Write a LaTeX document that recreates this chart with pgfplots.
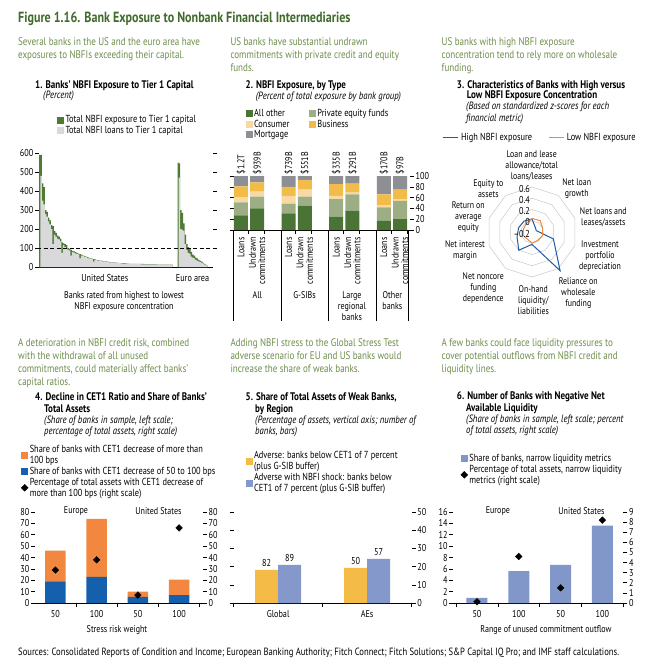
\documentclass[border=0pt]{standalone}
\usepackage{fontspec}
\setmainfont{PT Sans}[FakeStretch=0.82]
\usepackage{pgfplots}
\pgfplotsset{compat=1.18}
\usepgfplotslibrary{polar}

\definecolor{titlegreen}{HTML}{3F6B2B}
\definecolor{introgreen}{HTML}{6E8E4C}
\definecolor{nbgreen}{HTML}{4E7B33}
\definecolor{nbgrey}{HTML}{D9D9DB}
\definecolor{aother}{HTML}{4A7436}
\definecolor{pefund}{HTML}{9DAE85}
\definecolor{consum}{HTML}{F8D9A4}
\definecolor{busin}{HTML}{F2BC4A}
\definecolor{mortg}{HTML}{8E8F94}
\definecolor{hiblue}{HTML}{1E5BA6}
\definecolor{loorange}{HTML}{F0883E}
\definecolor{p4orange}{HTML}{F2883F}
\definecolor{p4blue}{HTML}{1560AC}
\definecolor{p5yellow}{HTML}{F5BB47}
\definecolor{p5blue}{HTML}{8598CB}
\definecolor{p6blue}{HTML}{8197CA}
\definecolor{ringgrey}{HTML}{C8C8C8}

\newcommand\ftitle{\fontsize{14.7}{16}\selectfont\bfseries}
\newcommand\fintro{\fontsize{11}{12.7}\selectfont}
\newcommand\ffoot{\fontsize{10.5}{12}\selectfont}
\newcommand\fpt{\fontsize{11}{12.2}\selectfont\bfseries}
\newcommand\fsub{\fontsize{10.6}{11.2}\selectfont\itshape}
\newcommand\fleg{\fontsize{10.2}{11.2}\selectfont}
\newcommand\frad{\fontsize{9.6}{11}\selectfont}
\newcommand\fax{\fontsize{9.8}{11}\selectfont}
\newcommand\frot{\fontsize{9.8}{9.4}\selectfont}
\newcommand\ftick{\fontsize{10}{11}\selectfont}

\pgfplotsset{
  base/.style={scale only axis, clip=false,
    every tick/.style={black, line width=0.6pt},
    major tick length=4pt,
    tick label style={font=\ftick, black},
    yticklabel style={inner sep=1.5pt},
    /pgf/number format/assume math mode=true,
    legend cell align=left,
    legend style={draw=none, fill=none, font=\fleg, inner sep=0pt, outer sep=0pt,
      row sep=0.8pt, nodes={inner xsep=1.5pt, inner ysep=0.6pt}, cells={align=left}}},
  lax/.style={axis x line=bottom, axis y line=left,
    x axis line style={-, line width=0.6pt, black}, y axis line style={draw=none},
    tick align=outside},
  rax/.style={axis x line=bottom, axis y line=right,
    x axis line style={draw=none}, y axis line style={draw=none},
    tick align=outside},
  sqleg/.style={legend image code/.code={\fill[##1] (0pt,-3.5pt) rectangle (7pt,3.5pt);}},
  dmleg/.style={legend image code/.code={\fill[black] (3.5pt,3.4pt) -- (6.9pt,0pt) -- (3.5pt,-3.4pt) -- (0.1pt,0pt) -- cycle;}},
  diam/.style={only marks, mark=square*, mark size=2.35pt, mark options={rotate=45, fill=black, draw=black}},
}

\begin{document}
\begin{tikzpicture}
\fill[white] (0pt,0pt) rectangle (646pt,-658pt);

% ---------- headings ----------
\node[anchor=north west, inner sep=0pt, font=\ftitle, text=titlegreen] at (18pt,-11.6pt)
  {Figure 1.16. Bank Exposure to Nonbank Financial Intermediaries};
\node[anchor=north west, inner sep=0pt, align=left, font=\fintro, text=introgreen] at (18pt,-37.9pt)
  {Several banks in the US and the euro area have\\exposures to NBFIs exceeding their capital.};
\node[anchor=north west, inner sep=0pt, align=left, font=\fintro, text=introgreen] at (230.3pt,-37.9pt)
  {US banks have substantial undrawn\\commitments with private credit and equity\\funds.};
\node[anchor=north west, inner sep=0pt, align=left, font=\fintro, text=introgreen] at (441.5pt,-37.9pt)
  {US banks with high NBFI exposure\\concentration tend to rely more on wholesale\\funding.};
\node[anchor=north west, inner sep=0pt, align=left, font=\fintro, text=introgreen] at (18pt,-338.9pt)
  {A deterioration in NBFI credit risk, combined\\with the withdrawal of all unused\\commitments, could materially affect banks'\\capital ratios.};
\node[anchor=north west, inner sep=0pt, align=left, font=\fintro, text=introgreen] at (230.3pt,-338.9pt)
  {Adding NBFI stress to the Global Stress Test\\adverse scenario for EU and US banks would\\increase the share of weak banks.};
\node[anchor=north west, inner sep=0pt, align=left, font=\fintro, text=introgreen] at (441.5pt,-338.9pt)
  {A few banks could face liquidity pressures to\\cover potential outflows from NBFI credit and\\liquidity lines.};

% panel titles
\node[anchor=north west, inner sep=0pt, font=\fpt] at (35pt,-80pt) {1. Banks' NBFI Exposure to Tier 1 Capital};
\node[anchor=north west, inner sep=0pt, font=\fsub] at (43pt,-91.2pt) {(Percent)};
\node[anchor=north west, inner sep=0pt, font=\fpt] at (245.5pt,-80.5pt) {2. NBFI Exposure, by Type};
\node[anchor=north west, inner sep=0pt, font=\fsub] at (255.7pt,-91.4pt) {(Percent of total exposure by bank group)};
\node[anchor=north west, inner sep=0pt, font=\fpt] at (456.7pt,-80.2pt) {3. Characteristics of Banks with High versus};
\node[anchor=north west, inner sep=0pt, font=\fpt] at (466.7pt,-90.5pt) {Low NBFI Exposure Concentration};
\node[anchor=north west, inner sep=0pt, align=left, font=\fsub] at (466pt,-102.2pt) {(Based on standardized z-scores for each\\financial metric)};
\node[anchor=north west, inner sep=0pt, font=\fpt] at (35pt,-392pt) {4. Decline in CET1 Ratio and Share of Banks'};
\node[anchor=north west, inner sep=0pt, font=\fpt] at (44pt,-404.6pt) {Total Assets};
\node[anchor=north west, inner sep=0pt, align=left, font=\fsub] at (44pt,-416pt) {(Share of banks in sample, left scale;\\percentage of total assets, right scale)};
\node[anchor=north west, inner sep=0pt, font=\fpt] at (245.5pt,-392pt) {5. Share of Total Assets of Weak Banks,};
\node[anchor=north west, inner sep=0pt, font=\fpt] at (255pt,-404.6pt) {by Region};
\node[anchor=north west, inner sep=0pt, align=left, font=\fsub] at (255pt,-416pt) {(Percentage of assets, vertical axis; number of\\banks, bars)};
\node[anchor=north west, inner sep=0pt, font=\fpt] at (456.7pt,-391.2pt) {6. Number of Banks with Negative Net};
\node[anchor=north west, inner sep=0pt, font=\fpt] at (466pt,-403.5pt) {Available Liquidity};
\node[anchor=north west, inner sep=0pt, align=left, font=\fsub] at (466pt,-414.5pt) {(Share of banks in sample, left scale; percent\\of total assets, right scale)};

\node[anchor=north west, inner sep=0pt, font=\ffoot] at (18pt,-647.8pt)
  {Sources: Consolidated Reports of Condition and Income; European Banking Authority; Fitch Connect; Fitch Solutions; S\&P Capital IQ Pro; and IMF staff calculations.};

% ---------- panel 1 ----------
\begin{axis}[base, lax, at={(39pt,-267pt)}, anchor=south west, width=173.5pt, height=114pt,
  xmin=0, xmax=174, ymin=0, ymax=600, ytick={0,100,...,600},
  xtick={66,154}, xticklabels={United States,Euro area}, xtick style={draw=none},
  xlabel={Banks rated from highest to lowest\\NBFI exposure concentration},
  xlabel style={font=\fax, align=center, at={(axis description cs:0.49,0)}, anchor=north, yshift=-21pt},
  sqleg, legend style={at={(0.104,1.333)}, anchor=north west}]
\addlegendimage{fill=nbgreen, draw=none}
\addlegendentry{Total NBFI exposure to Tier 1 capital}
\addlegendimage{fill=nbgrey, draw=none}
\addlegendentry{Total NBFI loans to Tier 1 capital}
% United States: total exposure
\addplot[fill=nbgreen, draw=none, const plot mark left, forget plot] coordinates {
(0,590)(1.5,590)(3,440)(4.5,420)(6,300)(7.5,290)(9,260)(10.5,245)(12,220)(13.5,215)(15,190)(16.5,180)
(18,165)(19.5,160)(21,150)(22.5,130)(24,125)(25.5,120)(27,115)(28.5,100)(30,95)(31.5,90)(33,85)(34.5,82)
(36,78)(37.5,75)(39,70)(40.5,68)(42,65)(43.5,60)(45,58)(46.5,55)(48,52)(49.5,48)(51,46)(52.5,44)
(54,42)(55.5,40)(57,38)(58.5,36)(60,34)(61.5,33)(63,32)(64.5,30)(66,29)(68,28)(70,26)(72,25)
(74,24)(76,23)(78,22)(80,21)(82,20)(84,20)(86,19)(88,18)(90,17)(94,17)(98,16)(102,16)(106,15)
(110,14)(114,14)(118,13)(122,13)(126,13)(130,12)(134,12)} \closedcycle;
% United States: loans
\addplot[fill=nbgrey, draw=none, const plot mark left, forget plot] coordinates {
(0,0)(1.5,480)(3,350)(4.5,330)(6,280)(7.5,265)(9,240)(10.5,225)(12,200)(13.5,120)(15,170)(16.5,160)
(18,150)(19.5,145)(21,135)(22.5,75)(24,115)(25.5,105)(27,100)(28.5,92)(30,88)(31.5,60)(33,80)(34.5,76)
(36,72)(37.5,69)(39,66)(40.5,45)(42,60)(43.5,57)(45,55)(46.5,52)(48,48)(49.5,46)(51,44)(52.5,42)
(54,28)(55.5,38)(57,36)(58.5,34)(60,33)(61.5,31)(63,30)(64.5,29)(66,28)(68,26)(70,25)(72,24)
(74,23)(76,22)(78,21)(80,20)(82,19)(84,18)(86,18)(88,17)(90,16)(94,15)(98,15)(102,14)(106,14)
(110,13)(114,13)(118,12)(122,12)(126,12)(130,12)(134,12)} \closedcycle;
% euro area: total exposure
\addplot[fill=nbgreen, draw=none, const plot mark left, forget plot] coordinates {
(139,550)(140,545)(141.5,300)(143,285)(144.5,230)(146,170)(147.5,120)(149,105)(150.5,95)(152,80)
(153.5,65)(155,60)(156.5,50)(158,45)(159.5,38)(161,32)(162.5,28)(164,22)(165.5,15)(167,10)(168.8,10)} \closedcycle;
% euro area: loans
\addplot[fill=nbgrey, draw=none, const plot mark left, forget plot] coordinates {
(139,0)(140,470)(141.5,200)(143,195)(144.5,190)(146,120)(147.5,90)(149,75)(150.5,70)(152,55)
(153.5,50)(155,45)(156.5,38)(158,34)(159.5,30)(161,26)(162.5,22)(164,18)(165.5,12)(167,9)(168.8,9)} \closedcycle;
\addplot[black, line width=0.9pt, dash pattern=on 4pt off 2.5pt, forget plot] coordinates {(-2,100)(176.5,100)};
\end{axis}
\begin{axis}[base, rax, at={(39pt,-267pt)}, anchor=south west, width=173.5pt, height=114pt,
  xmin=0, xmax=174, ymin=0, ymax=600, ytick={100,200,...,600}, yticklabels={}, xtick=\empty]
\addplot[draw=none] coordinates {(0,0)};
\end{axis}

% ---------- panel 2 ----------
\begin{axis}[base, lax, at={(233.6pt,-230pt)}, anchor=south west, width=176.4pt, height=54pt,
  xmin=-0.155, xmax=3.55, ymin=0, ymax=100, ytick={0,20,...,100}, yticklabels={},
  xtick={0.147,0.487,1.147,1.487,2.147,2.487,3.147,3.487}, xticklabels={}]
\addplot[draw=none] coordinates {(0,0)};
\draw[black, line width=0.6pt] (axis cs:-0.155,0) -- ++(0pt,-91pt);
\draw[black, line width=0.6pt] (axis cs:0.84,0) -- ++(0pt,-91pt);
\draw[black, line width=0.6pt] (axis cs:1.83,0) -- ++(0pt,-91pt);
\draw[black, line width=0.6pt] (axis cs:2.84,0) -- ++(0pt,-91pt);
\draw[black, line width=0.6pt] (axis cs:3.52,0) -- ++(0pt,-91pt);
\end{axis}
\begin{axis}[base, rax, at={(233.6pt,-230pt)}, anchor=south west, width=176.4pt, height=54pt,
  xmin=-0.155, xmax=3.55, ymin=0, ymax=100, ytick={0,20,...,100},
  ybar stacked, bar width=14pt,
  xtick={0,0.34,1,1.34,2,2.34,3,3.34},
  xticklabels={Loans,Undrawn\\commitments,Loans,Undrawn\\commitments,Loans,Undrawn\\commitments,Loans,Undrawn\\commitments},
  xtick style={draw=none},
  xticklabel style={rotate=90, anchor=east, align=right, font=\frot},
  legend columns=2, sqleg,
  legend style={at={(0.0675,2.25)}, anchor=north west, /tikz/every even column/.append style={column sep=18pt}}]
\addplot[fill=aother, draw=none] coordinates {(0,27)(0.34,40)(1,31)(1.34,45)(2,25)(2.34,36)(3,17)(3.34,20)};
\addlegendentry{All other}
\addplot[fill=pefund, draw=none] coordinates {(0,24)(0.34,22)(1,18)(1.34,17)(2,32)(2.34,30)(3,25)(3.34,34)};
\addlegendentry{Private equity funds}
\addplot[fill=consum, draw=none] coordinates {(0,10)(0.34,9)(1,14)(1.34,13)(2,6)(2.34,3)(3,4)(3.34,3)};
\addlegendentry{Consumer}
\addplot[fill=busin, draw=none] coordinates {(0,20)(0.34,17)(1,17)(1.34,18)(2,22)(2.34,17)(3,20)(3.34,18)};
\addlegendentry{Business}
\addplot[fill=mortg, draw=none] coordinates {(0,19)(0.34,12)(1,20)(1.34,7)(2,15)(2.34,14)(3,34)(3.34,25)};
\addlegendentry{Mortgage}
\node[rotate=90, anchor=west, font=\fax, inner sep=1.5pt] at (axis cs:0,100) {\$1.2T};
\node[rotate=90, anchor=west, font=\fax, inner sep=1.5pt] at (axis cs:0.34,100) {\$939B};
\node[rotate=90, anchor=west, font=\fax, inner sep=1.5pt] at (axis cs:1,100) {\$739B};
\node[rotate=90, anchor=west, font=\fax, inner sep=1.5pt] at (axis cs:1.34,100) {\$551B};
\node[rotate=90, anchor=west, font=\fax, inner sep=1.5pt] at (axis cs:2,100) {\$335B};
\node[rotate=90, anchor=west, font=\fax, inner sep=1.5pt] at (axis cs:2.34,100) {\$291B};
\node[rotate=90, anchor=west, font=\fax, inner sep=1.5pt] at (axis cs:3,100) {\$170B};
\node[rotate=90, anchor=west, font=\fax, inner sep=1.5pt] at (axis cs:3.34,100) {\$97B};
\node[anchor=north, yshift=-61pt, font=\fax, align=center, inner sep=0pt] at (axis cs:0.342,0) {All};
\node[anchor=north, yshift=-61pt, font=\fax, align=center, inner sep=0pt] at (axis cs:1.334,0) {G-SIBs};
\node[anchor=north, yshift=-61pt, font=\fax, align=center, inner sep=0pt] at (axis cs:2.33,0) {Large\\regional\\banks};
\node[anchor=north, yshift=-61pt, font=\fax, align=center, inner sep=0pt] at (axis cs:3.18,0) {Other\\banks};
\end{axis}

% ---------- panel 3 ----------
\begin{polaraxis}[hide axis, scale only axis, clip=false,
  width=90pt, height=90pt, at={(532pt,-232pt)}, anchor=center,
  ymin=0, ymax=0.8, y filter/.expression={y+0.2},
  legend columns=2, legend cell align=left,
  legend style={draw=none, fill=none, font=\fleg, inner sep=0pt,
    at={(-0.5,1.622)}, anchor=north west,
    /tikz/every even column/.append style={column sep=14pt}},
  legend image code/.code={\draw[#1, line width=1.2pt] (0pt,0pt) -- (15.6pt,0pt);}]
\addplot[ringgrey, line width=0.5pt, forget plot] coordinates {(90,0.6)(54,0.6)(18,0.6)(342,0.6)(306,0.6)(270,0.6)(234,0.6)(198,0.6)(162,0.6)(126,0.6)(90,0.6)};
\addplot[ringgrey, line width=0.5pt, forget plot] coordinates {(90,0.4)(54,0.4)(18,0.4)(342,0.4)(306,0.4)(270,0.4)(234,0.4)(198,0.4)(162,0.4)(126,0.4)(90,0.4)};
\addplot[ringgrey, line width=0.5pt, forget plot] coordinates {(90,0.2)(54,0.2)(18,0.2)(342,0.2)(306,0.2)(270,0.2)(234,0.2)(198,0.2)(162,0.2)(126,0.2)(90,0.2)};
\addplot[ringgrey, line width=0.5pt, forget plot] coordinates {(90,0)(54,0)(18,0)(342,0)(306,0)(270,0)(234,0)(198,0)(162,0)(126,0)(90,0)};
\addplot[hiblue, line width=1pt] coordinates {(90,0.03)(54,-0.1)(18,-0.12)(342,0.2)(306,0.65)(270,0.02)(234,0.2)(198,0.08)(162,0.05)(126,0.04)(90,0.03)};
\addlegendentry{High NBFI exposure}
\addplot[loorange, line width=1pt] coordinates {(90,0.04)(54,0.05)(18,0)(342,0)(306,-0.02)(270,0)(234,-0.05)(198,-0.03)(162,-0.04)(126,-0.02)(90,0.04)};
\addlegendentry{Low NBFI exposure}
\end{polaraxis}
\node[anchor=east, inner sep=0pt, font=\ftick] at (530pt,-188.5pt) {0.6};
\node[anchor=east, inner sep=0pt, font=\ftick] at (530pt,-199.7pt) {0.4};
\node[anchor=east, inner sep=0pt, font=\ftick] at (530pt,-211pt) {0.2};
\node[anchor=east, inner sep=0pt, font=\ftick] at (530pt,-222.2pt) {0};
\node[anchor=east, inner sep=0pt, font=\ftick] at (530pt,-233.5pt) {--0.2};
\node[align=center, font=\frad, inner sep=0pt] at (531.7pt,-165.7pt) {Loan and lease\\allowance/total\\loans/leases};
\node[align=center, font=\frad, inner sep=0pt] at (576.7pt,-188.2pt) {Net loan\\growth};
\node[align=center, font=\frad, inner sep=0pt] at (603.3pt,-217pt) {Net loans and\\leases/assets};
\node[align=center, font=\frad, inner sep=0pt] at (600pt,-256pt) {Investment\\portfolio\\depreciation};
\node[align=center, font=\frad, inner sep=0pt] at (578.3pt,-293.3pt) {Reliance on\\wholesale\\funding};
\node[align=center, font=\frad, inner sep=0pt] at (533.3pt,-300pt) {On-hand\\liquidity/\\liabilities};
\node[align=center, font=\frad, inner sep=0pt] at (483.3pt,-288.3pt) {Net noncore\\funding\\dependence};
\node[align=center, font=\frad, inner sep=0pt] at (465pt,-250.5pt) {Net interest\\margin};
\node[align=center, font=\frad, inner sep=0pt] at (468.3pt,-216.7pt) {Return on\\average\\equity};
\node[align=center, font=\frad, inner sep=0pt] at (488.3pt,-188.2pt) {Equity to\\assets};

% ---------- panel 4 ----------
\begin{axis}[base, lax, at={(35pt,-603pt)}, anchor=south west, width=168pt, height=91pt,
  xmin=-0.495, xmax=3.58, ymin=0, ymax=80, ytick={0,10,...,80},
  ybar stacked, bar width=20.5pt,
  xtick={0,1,2,3}, xticklabels={50,100,50,100}, xtick style={draw=none},
  xlabel={Stress risk weight},
  xlabel style={font=\fax, at={(axis description cs:0.488,0)}, anchor=north, yshift=-18.5pt}]
\addplot[fill=p4blue, draw=none] coordinates {(0,19)(1,23)(2,5.5)(3,7)};
\addplot[fill=p4orange, draw=none] coordinates {(0,27)(1,51)(2,4.5)(3,13.5)};
\node[font=\fax] at (axis cs:0.5,81) {Europe};
\node[font=\fax] at (axis cs:2.5,81) {United States};
\end{axis}
\begin{axis}[base, rax, at={(35pt,-603pt)}, anchor=south west, width=168pt, height=91pt,
  xmin=-0.495, xmax=3.58, ymin=0, ymax=80, ytick={0,10,...,80},
  xtick={-0.5,0.5,1.5,2.5,3.5}, xticklabels={},
  sqleg, legend style={at={(-0.083,1.742)}, anchor=north west}]
\addlegendimage{fill=p4orange, draw=none}
\addlegendentry{Share of banks with CET1 decrease of more than\\100 bps}
\addlegendimage{fill=p4blue, draw=none}
\addlegendentry{Share of banks with CET1 decrease of 50 to 100 bps}
\addlegendimage{dmleg}
\addlegendentry{Percentage of total assets with CET1 decrease of\\more than 100 bps (right scale)}
\addplot[diam, forget plot] coordinates {(0,29)(1,38)(2,7)(3,66)};
\end{axis}

% ---------- panel 5 ----------
\begin{axis}[base, lax, at={(233.6pt,-603pt)}, anchor=south west, width=178pt, height=91pt,
  xmin=-0.5, xmax=1.5, ymin=0, ymax=50, ytick={0,10,...,50}, yticklabels={},
  xtick={-0.5,0.5,1.5}, xticklabels={}]
\addplot[draw=none] coordinates {(0,0)};
\end{axis}
\begin{axis}[base, rax, at={(233.6pt,-603pt)}, anchor=south west, width=178pt, height=91pt,
  xmin=-0.5, xmax=1.5, ymin=0, ymax=50, ytick={0,10,...,50},
  ybar=0pt, bar width=23pt, xtick={0,1}, xticklabels={Global,AEs}, xtick style={draw=none},
  nodes near coords, point meta=explicit symbolic, nodes near coords style={font=\ftick, black},
  sqleg, legend style={at={(0.0669,1.675)}, anchor=north west}]
\addplot[fill=p5yellow, draw=none] coordinates {(0,18.2)[82] (1,19.3)[50]};
\addlegendentry{Adverse: banks below CET1 of 7 percent\\(plus G-SIB buffer)}
\addplot[fill=p5blue, draw=none] coordinates {(0,21)[89] (1,24.3)[57]};
\addlegendentry{Adverse with NBFI shock: banks below\\CET1 of 7 percent (plus G-SIB buffer)}
\end{axis}

% ---------- panel 6 ----------
\begin{axis}[base, lax, at={(453.3pt,-603pt)}, anchor=south west, width=170pt, height=91pt,
  xmin=-0.566, xmax=3.5, ymin=0, ymax=16, ytick={0,2,...,16},
  ybar, bar width=21pt,
  xtick={0,1,2,3}, xticklabels={50,100,50,100}, xtick style={draw=none},
  xlabel={Range of unused commitment outflow},
  xlabel style={font=\fax, at={(axis description cs:0.545,0)}, anchor=north, yshift=-18.5pt}]
\addplot[fill=p6blue, draw=none] coordinates {(0,0.9)(1,5.6)(2,6.7)(3,13.6)};
\node[font=\fax] at (axis cs:0.5,16.2) {Europe};
\node[font=\fax] at (axis cs:2.5,16.2) {United States};
\end{axis}
\begin{axis}[base, rax, at={(453.3pt,-603pt)}, anchor=south west, width=170pt, height=91pt,
  xmin=-0.566, xmax=3.5, ymin=0, ymax=9, ytick={0,1,...,9},
  xtick={-0.5,0.5,1.5,2.5,3.5}, xticklabels={},
  sqleg, legend style={at={(0.0435,1.643)}, anchor=north west}]
\addlegendimage{fill=p6blue, draw=none}
\addlegendentry{Share of banks, narrow liquidity metrics}
\addlegendimage{dmleg}
\addlegendentry{Percentage of total assets, narrow liquidity\\metrics (right scale)}
\addplot[diam, forget plot] coordinates {(0,0.13)(1,4.6)(2,1.5)(3,8.2)};
\end{axis}
\end{tikzpicture}
\end{document}
